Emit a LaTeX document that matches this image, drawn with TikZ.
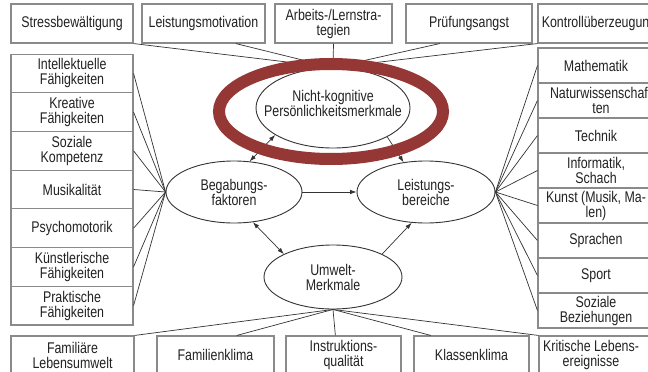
\documentclass[tikz,border=0pt]{standalone}
\usepackage{fontspec}
\setmainfont{Liberation Sans}[FakeStretch=0.8]
\usetikzlibrary{shapes.geometric,arrows.meta,calc}
\definecolor{boxgray}{HTML}{8A8A8A}
\definecolor{linegray}{HTML}{333333}
\definecolor{ringred}{HTML}{953735}
\definecolor{txtcol}{HTML}{222222}
\begin{document}
\begin{tikzpicture}[x=1pt,y=-1pt,
  font=\fontsize{15.5}{15}\selectfont,
  box/.style={draw=boxgray, line width=1.1pt, fill=white, inner sep=0pt, align=center, text=txtcol},
  txt/.style={inner sep=0pt, align=center, text=txtcol},
  ell/.style={ellipse, draw=linegray, line width=0.9pt, inner sep=0pt, fill=white},
  conn/.style={draw=linegray, line width=0.7pt},
  arr/.style={conn, -{Latex[length=6.5pt,width=4.5pt]}},
  darr/.style={conn, {Latex[length=6.5pt,width=4.5pt]}-{Latex[length=6.5pt,width=4.5pt]}}]
\path[use as bounding box] (0,0) rectangle (648,372);
\clip (0,0) rectangle (648,372);

% top row
\node[box, minimum width=122pt, minimum height=39pt] (t1) at (72,23.5) {Stressbewältigung};
\node[box, minimum width=123pt, minimum height=39pt] (t2) at (203.5,23.5) {Leistungsmotivation};
\node[box, minimum width=117pt, minimum height=39pt] (t3) at (333.5,23.5) {Arbeits-/Lernstra-\\tegien};
\node[box, minimum width=126pt, minimum height=39pt] (t4) at (469,23.5) {Prüfungsangst};
\node[box, minimum width=122pt, minimum height=39pt] (t5) at (599,23.5) {Kontrollüberzeugung};

% left column
\node[box, minimum width=122pt, minimum height=38.7pt] (l1) at (72,73.4) {Intellektuelle\\Fähigkeiten};
\node[box, minimum width=122pt, minimum height=38.7pt] (l2) at (72,112.1) {Kreative\\Fähigkeiten};
\node[box, minimum width=122pt, minimum height=38.7pt] (l3) at (72,150.8) {Soziale\\Kompetenz};
\node[box, minimum width=122pt, minimum height=38.7pt] (l4) at (72,189.5) {Musikalität};
\node[box, minimum width=122pt, minimum height=38.7pt] (l5) at (72,228.2) {Psychomotorik};
\node[box, minimum width=122pt, minimum height=38.7pt] (l6) at (72,266.9) {Künstlerische\\Fähigkeiten};
\node[box, minimum width=122pt, minimum height=38.7pt] (l7) at (72,305.6) {Praktische\\Fähigkeiten};

% right column
\foreach \n/\y in {r1/65.5,r2/100.5,r3/135.5,r4/170.5,r5/205.5,r6/240.5,r7/275.5,r8/310.5}
  \node[box, minimum width=122pt, minimum height=35pt] (\n) at (599,\y) {};
\node[txt] (r1t) at (596,65.5) {Mathematik};
\node[txt] (r2t) at (601,100.5) {Naturwissenschaf-\\ten};
\node[txt] (r3t) at (596,135.5) {Technik};
\node[txt] (r4t) at (596,170.5) {Informatik,\\Schach};
\node[txt] (r5t) at (596,205.5) {Kunst (Musik, Ma-\\len)};
\node[txt] (r6t) at (596,240.5) {Sprachen};
\node[txt] (r7t) at (596,275.5) {Sport};
\node[txt] (r8t) at (596,310.5) {Soziale\\Beziehungen};

% bottom row
\node[box, minimum width=123pt, minimum height=38pt] (b1) at (72.5,355) {Familiäre\\Lebensumwelt};
\node[box, minimum width=117pt, minimum height=38pt] (b2) at (215.5,355) {Familienklima};
\node[box, minimum width=115pt, minimum height=38pt] (b3) at (343.5,355) {Instruktions-\\qualität};
\node[box, minimum width=115pt, minimum height=38pt] (b4) at (471.5,355) {Klassenklima};
\node[box, minimum width=122pt, minimum height=38pt] (b5) at (600,355) {};
\node[txt] (b5t) at (591,355) {Kritische Lebens-\\ereignisse};

% ellipses
\node[ell, minimum width=154pt, minimum height=80pt] (NK) at (333,108) {};
\node[txt] (NKt) at (333,103) {Nicht-kognitive\\Persönlichkeitsmerkmale};
\node[ell, minimum width=136pt, minimum height=62pt] (B) at (234,192) {};
\node[txt] (Bt) at (234,192.5) {Begabungs-\\faktoren};
\node[ell, minimum width=138pt, minimum height=62pt] (L) at (426,192) {};
\node[txt] (Lt) at (426,192.5) {Leistungs-\\bereiche};
\node[ell, minimum width=138pt, minimum height=64pt] (U) at (333,277) {};
\node[txt] (Ut) at (333,277.5) {Umwelt-\\Merkmale};

% fan connectors
\foreach \n in {l1,l2,l3,l4,l5,l6,l7} \draw[conn] (\n.east) -- (B.west);
\foreach \n in {r1,r2,r3,r4,r5,r6,r7,r8} \draw[conn] (\n.west) -- (L.east);
\draw[conn] (t1.south east) -- (NK.north);
\draw[conn] ($(t2.south west)!0.76!(t2.south east)$) -- (NK.north);
\draw[conn] (t3.south) -- (NK.north);
\draw[conn] ($(t4.south west)!0.27!(t4.south east)$) -- (NK.north);
\draw[conn] (t5.south west) -- (NK.north);
\draw[conn] (b1.north east) -- (U.south);
\draw[conn] ($(b2.north west)!0.68!(b2.north east)$) -- (U.south);
\draw[conn] ($(b3.north west)!0.43!(b3.north east)$) -- (U.south);
\draw[conn] ($(b4.north west)!0.15!(b4.north east)$) -- (U.south);
\draw[conn] (b5.north west) -- (U.south);

% arrows between ellipses
\draw[darr] (B.63) -- (NK.205);
\draw[arr] (NK.-28) -- (L.127);
\draw[arr] (B.east) -- (L.west);
\draw[darr] (B.302) -- (U.155);
\draw[arr] (U.25) -- (L.245);

% highlight ring
\draw[ringred, line width=12pt] (331,111.5) ellipse [x radius=112pt, y radius=47.5pt];
\end{tikzpicture}
\end{document}
